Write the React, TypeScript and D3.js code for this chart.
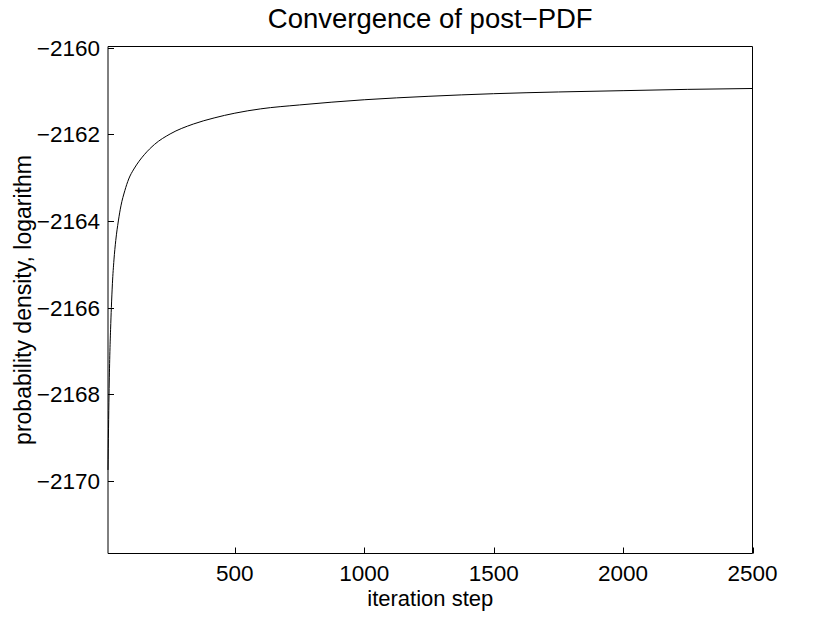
import React from "react";
import * as d3 from "d3";

const iterations = [10, 12, 14, 17, 20, 23, 27, 33, 40, 50, 60, 75, 90, 110, 130, 150, 190, 250, 340, 420, 500, 600, 750, 1000, 1250, 1500, 1750, 2000, 2250, 2500];
const logDensity = [-2169.75, -2168.8, -2168.0, -2167.1, -2166.5, -2166.0, -2165.45, -2164.9, -2164.45, -2164.0, -2163.65, -2163.3, -2163.03, -2162.8, -2162.62, -2162.47, -2162.23, -2161.99, -2161.76, -2161.62, -2161.51, -2161.41, -2161.32, -2161.2, -2161.12, -2161.06, -2161.02, -2160.99, -2160.96, -2160.94];
const xTicks = [500, 1000, 1500, 2000, 2500];
const yTicks = [-2160, -2162, -2164, -2166, -2168, -2170];

const W = 830, H = 624;
const left = 108, right = 752.5, top = 46.5, bottom = 553.5;
const font = "'Liberation Sans', Arial, Helvetica, sans-serif";
const fs = 22.5;
const tickLen = 6;

export default function App() {
  const x = d3.scaleLinear().domain([10, 2500]).range([left, right]);
  const y = d3.scaleLinear().domain([-2171.68, -2159.97]).range([bottom, top]);
  const line = d3
    .line<number>()
    .x((_, i) => x(iterations[i]))
    .y((d) => y(d))
    .curve(d3.curveMonotoneX);
  const fmt = (v: number) => (v < 0 ? "\u2212" + Math.abs(v) : String(v));
  return (
    <svg width={W} height={H} style={{ position: "absolute", left: 0, top: 0, background: "#fff" }}>
      <rect x={0} y={0} width={W} height={H} fill="#fff" />
      <path d={line(logDensity) || ""} fill="none" stroke="#000" strokeWidth={1} />
      <line x1={left} x2={right} y1={top} y2={top} stroke="#000" strokeWidth={1} />
      <line x1={left} x2={right} y1={bottom} y2={bottom} stroke="#000" strokeWidth={1} />
      <line x1={left} x2={left} y1={top} y2={bottom} stroke="#000" strokeWidth={1} />
      <line x1={right} x2={right} y1={top} y2={bottom} stroke="#000" strokeWidth={1} />
      {xTicks.map((t) => (
        <g key={"x" + t}>
          <line x1={Math.round(x(t)) + 0.5} x2={Math.round(x(t)) + 0.5} y1={bottom} y2={bottom - tickLen} stroke="#000" />
          <text x={x(t)} y={581} textAnchor="middle" fontFamily={font} fontSize={fs} fill="#000">
            {fmt(t)}
          </text>
        </g>
      ))}
      {yTicks.map((t) => (
        <g key={"y" + t}>
          <line x1={left} x2={left + tickLen} y1={Math.round(y(t)) + 0.5} y2={Math.round(y(t)) + 0.5} stroke="#000" />
          <text x={100} y={y(t) + fs * 0.36} textAnchor="end" fontFamily={font} fontSize={fs} fill="#000">
            {fmt(t)}
          </text>
        </g>
      ))}
      <text x={(left + right) / 2} y={28} textAnchor="middle" fontFamily={font} fontSize={27.5} fill="#000">
        Convergence of post{"\u2212"}PDF
      </text>
      <text x={(left + right) / 2} y={606} textAnchor="middle" fontFamily={font} fontSize={22} fill="#000">
        iteration step
      </text>
      <text
        transform={`translate(31, ${(top + bottom) / 2}) rotate(-90)`}
        textAnchor="middle"
        fontFamily={font}
        fontSize={23}
        fill="#000"
      >
        probability density, logarithm
      </text>
    </svg>
  );
}
